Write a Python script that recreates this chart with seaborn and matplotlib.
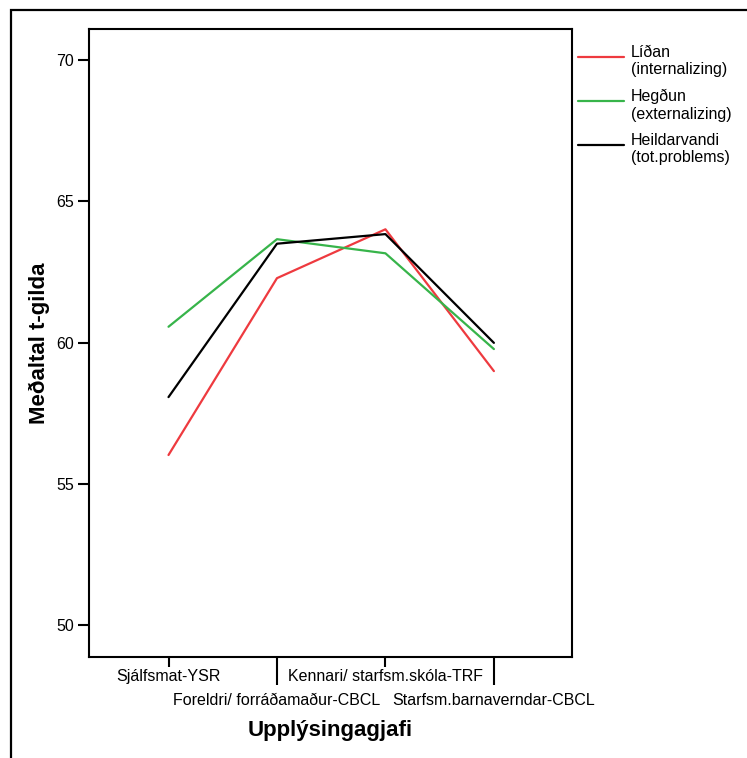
import numpy as np
import pandas as pd
import matplotlib
matplotlib.use("Agg")
import matplotlib.pyplot as plt
from matplotlib.patches import Rectangle
from matplotlib.legend_handler import HandlerLine2D
from matplotlib.lines import Line2D
import seaborn as sns

categories = ["Sjálfsmat-YSR", "Foreldri/ forráðamaður-CBCL",
              "Kennari/ starfsm.skóla-TRF", "Starfsm.barnaverndar-CBCL"]
series_names = ["Líðan\n(internalizing)", "Hegðun\n(externalizing)",
                "Heildarvandi\n(tot.problems)"]
lidan = [56.02, 62.28, 64.01, 58.99]
hegdun = [60.56, 63.66, 63.16, 59.77]
heildar = [58.07, 63.50, 63.84, 59.99]
yticks = [50, 55, 60, 65, 70]

sns.set_style("white")
plt.rcParams['font.family'] = ['Liberation Sans', 'DejaVu Sans']
plt.rcParams['text.color'] = 'black'
plt.rcParams['axes.labelcolor'] = 'black'
plt.rcParams['xtick.color'] = 'black'
plt.rcParams['ytick.color'] = 'black'


class UpHandler(HandlerLine2D):
    def create_artists(self, legend, orig_handle, xdescent, ydescent,
                       width, height, fontsize, trans):
        return super().create_artists(legend, orig_handle, xdescent,
                                      ydescent - 7, width, height,
                                      fontsize, trans)


rows = []
for name, vals in zip(series_names, [lidan, hegdun, heildar]):
    for i, (c, v) in enumerate(zip(categories, vals)):
        rows.append({"pos": i, "cat": c, "value": v, "series": name})
df = pd.DataFrame(rows)

fig = plt.figure(figsize=(7.47, 7.58), dpi=100)
ax = fig.add_axes([89/747, 1-657/758, (572-89)/747, (657-29)/758])

palette = ["#EE3A3F", "#37B44A", "#000000"]
sns.lineplot(data=df, x="pos", y="value", hue="series", palette=palette,
             hue_order=series_names, sort=False, linewidth=1.6, ax=ax,
             estimator=None)

ax.set_xlim(-0.733, 3.72)
ax.set_ylim(48.87, 71.10)
ax.set_yticks(yticks)
ax.set_yticklabels([str(t) for t in yticks])

ax.set_xticks([0, 2], labels=[categories[0], categories[2]])
ax.set_xticks([1, 3], labels=[categories[1], categories[3]], minor=True)
ax.tick_params(axis='x', which='major', direction='out', length=7.5, width=1.5,
               pad=1, labelsize=11.5, bottom=True, color='black', labelcolor='black')
ax.tick_params(axis='x', which='minor', direction='out', length=20.5, width=1.5,
               pad=5.5, labelsize=11.5, bottom=True, color='black', labelcolor='black')
ax.tick_params(axis='y', which='major', direction='out', length=8, width=1.5,
               pad=3, labelsize=11.5, left=True, color='black', labelcolor='black')

for s in ax.spines.values():
    s.set_color('black')
    s.set_linewidth(1.5)

ax.set_xlabel("Upplýsingagjafi", fontsize=16, fontweight='bold', labelpad=8.5,
              color='black')
ax.set_ylabel("Meðaltal t-gilda", fontsize=16, fontweight='bold', labelpad=4,
              color='black')

handles, labels = ax.get_legend_handles_labels()
leg = ax.legend(handles, labels, loc='upper left',
                bbox_to_anchor=(578/747, 1-45/758), bbox_transform=fig.transFigure,
                frameon=False, fontsize=11.5, handlelength=2.85, handletextpad=0.45,
                borderaxespad=0, borderpad=0, labelspacing=0.72,
                handler_map={Line2D: UpHandler()})
for t in leg.get_texts():
    t.set_color('black')

fig.add_artist(Rectangle((11/747, -0.2), 1.5, 1.2 - 10/758,
                         transform=fig.transFigure, fill=False,
                         edgecolor='black', linewidth=1.6, clip_on=False))

fig.savefig("out.png", dpi=100)
